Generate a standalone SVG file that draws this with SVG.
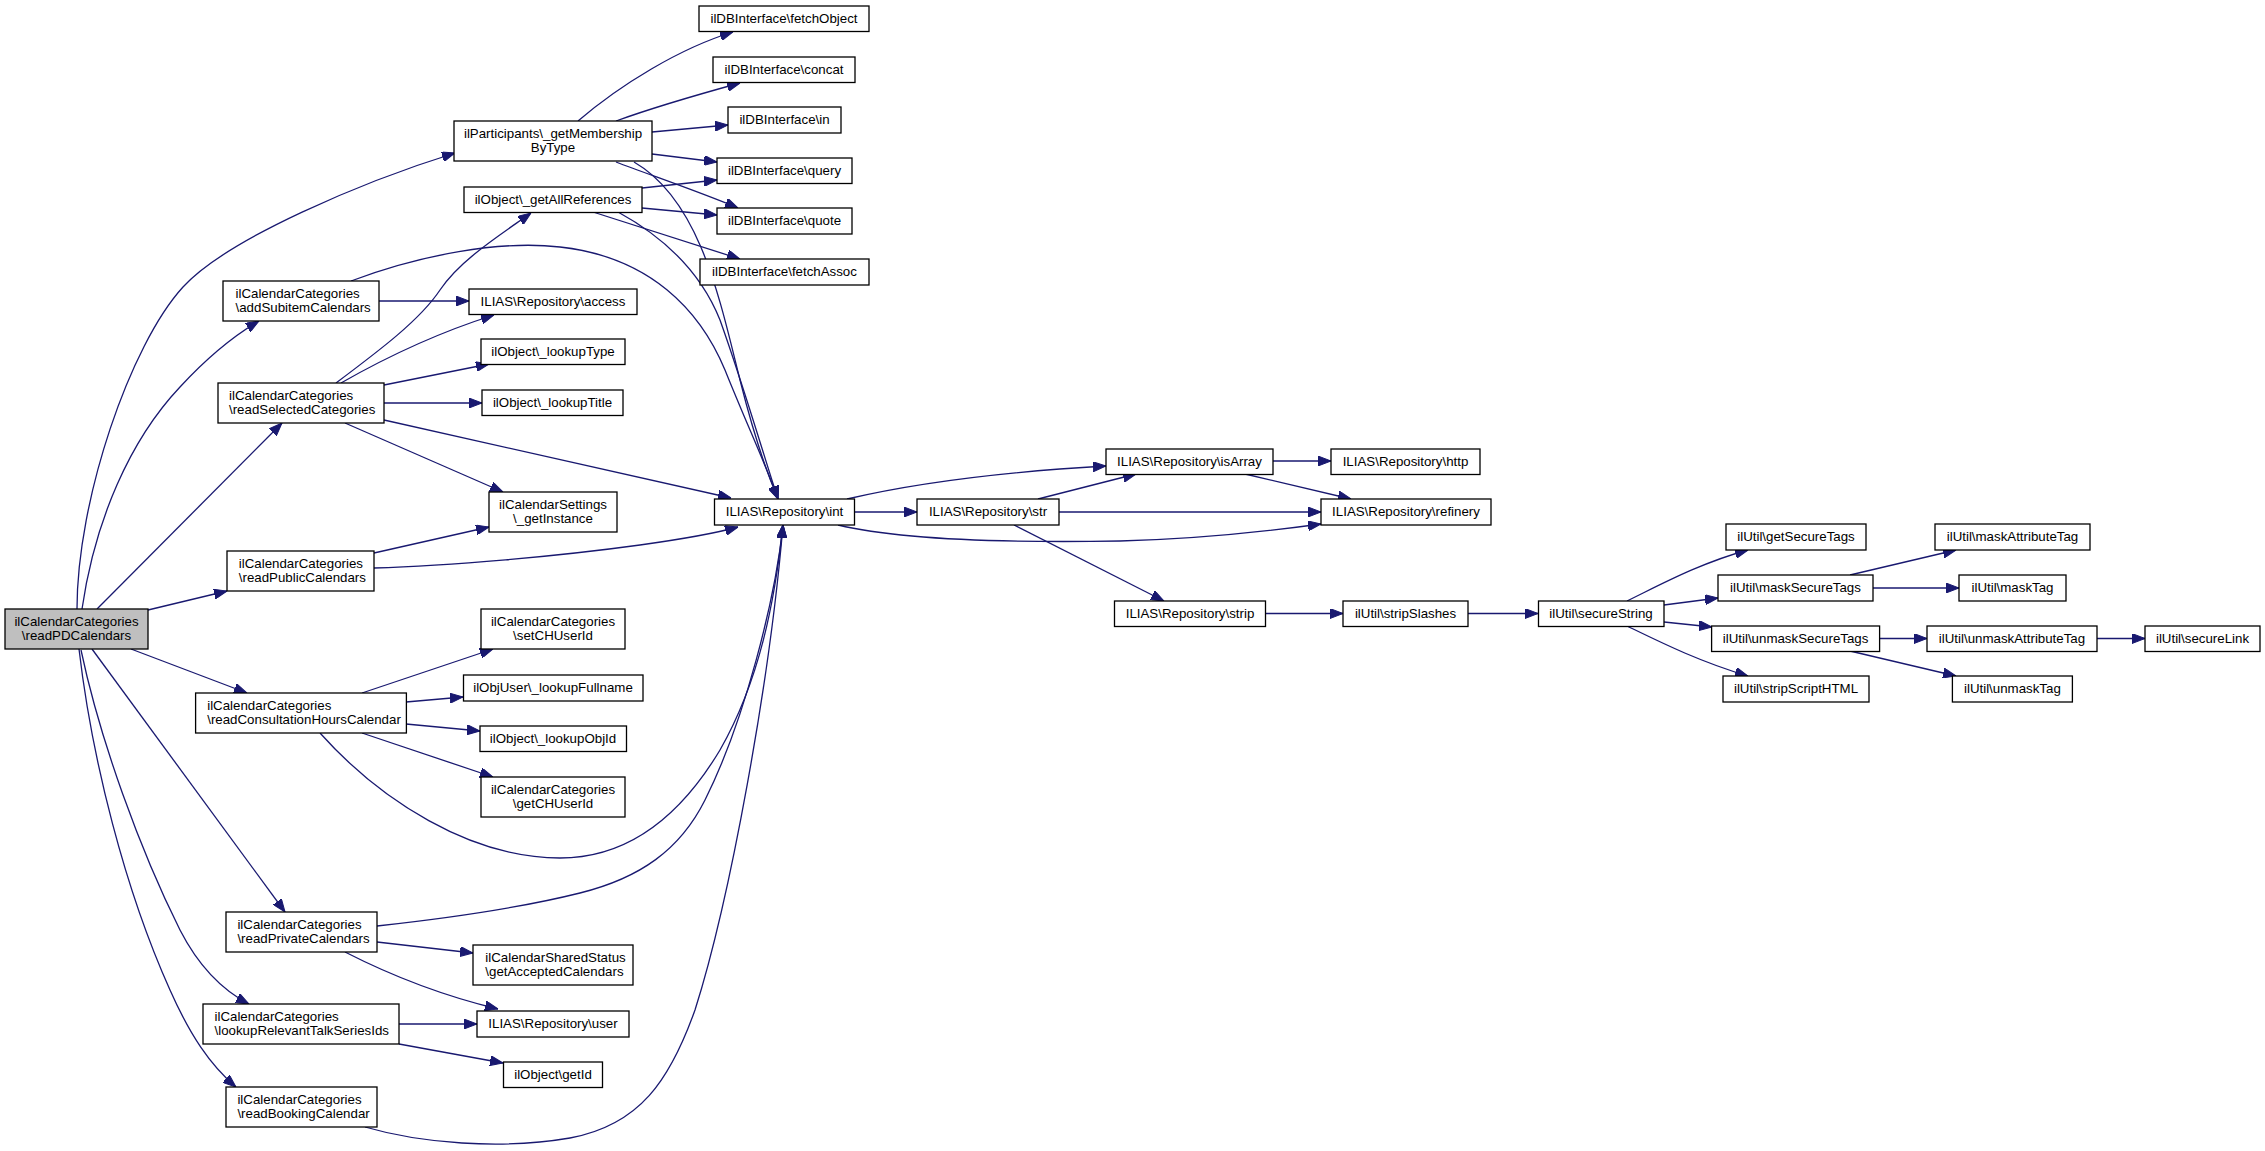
<svg xmlns="http://www.w3.org/2000/svg" width="2265" height="1151" viewBox="0 0 2265 1151">
<style>
.n rect{fill:#fff;stroke:#000;stroke-width:1.3}
.n.root rect{fill:#bfbfbf}
.n text{font-family:"Liberation Sans",Arial,sans-serif;font-size:13.3px;fill:#000}
.c{text-anchor:middle}
.e path{fill:none;stroke:#191970;stroke-width:1.3;marker-end:url(#ah)}
</style>
<defs>
<marker id="ah" markerUnits="userSpaceOnUse" markerWidth="13" markerHeight="10" viewBox="0 0 13 10" refX="13" refY="5" orient="auto">
<path d="M0,0 L13,5 L0,10 z" fill="#191970" stroke="#191970" stroke-width="1"/>
</marker>
</defs>
<rect width="2265" height="1151" fill="#fff"/>
<g id="connectors" class="e">
<path d="M77,609 C 77,500 130,345 183,287 C 228,238 365,181 455,153"/>
<path d="M82,609 C 95,520 130,440 180,387 C 205,360 230,338 259,321"/>
<path d="M97,609 L282,423"/>
<path d="M148,610 L227,591"/>
<path d="M131,649 L247,693"/>
<path d="M92,649 L285,912"/>
<path d="M81,650 C 100,740 140,850 180,930 C 198,965 222,990 249,1004"/>
<path d="M79,649 C 92,760 125,890 170,990 C 190,1035 210,1065 236,1087"/>
<path d="M578,121 C 620,85 680,48 733,32"/>
<path d="M616,121 C 660,105 700,94 740,83"/>
<path d="M652,132 L728,125"/>
<path d="M652,154 L717,162"/>
<path d="M616,162 C 650,175 700,192 738,208"/>
<path d="M634,162 C 700,200 720,300 740,380 C 755,440 770,480 778,499"/>
<path d="M642,188 L717,180"/>
<path d="M642,208 L717,215"/>
<path d="M593,212 L740,259"/>
<path d="M618,212 C 660,235 700,270 720,320 C 745,390 765,460 778,499"/>
<path d="M379,301 L469,301"/>
<path d="M351,281 C 420,255 500,240 560,247 C 650,257 700,310 725,370 C 745,420 768,470 778,499"/>
<path d="M336,383 C 380,350 420,320 440,290 C 460,260 500,235 531,213"/>
<path d="M341,383 C 390,355 440,332 494,315"/>
<path d="M384,385 L489,364"/>
<path d="M384,403 L482,403"/>
<path d="M345,423 L503,492"/>
<path d="M384,420 L731,498"/>
<path d="M374,553 L489,527"/>
<path d="M374,568 C 450,566 560,556 640,545 C 690,538 720,532 738,527"/>
<path d="M362,693 L493,649"/>
<path d="M406,702 L463,697"/>
<path d="M406,724 L480,731"/>
<path d="M362,733 L493,777"/>
<path d="M320,733 C 380,800 470,858 560,858 C 640,858 690,800 720,750 C 760,680 775,600 783,525"/>
<path d="M377,926 C 450,918 520,908 580,893 C 640,878 680,850 705,800 C 745,720 775,600 783,525"/>
<path d="M377,942 L473,953"/>
<path d="M345,952 C 390,975 440,995 498,1009"/>
<path d="M399,1024 L477,1024"/>
<path d="M399,1044 L503,1063"/>
<path d="M365,1127 C 420,1143 500,1150 570,1138 C 640,1125 670,1080 695,1010 C 730,900 770,680 783,525"/>
<path d="M847,499 C 920,482 1000,472 1106,466"/>
<path d="M854,512 L917,512"/>
<path d="M838,525 C 900,540 1000,543 1120,541 C 1200,539 1270,531 1321,524"/>
<path d="M1038,499 L1136,474"/>
<path d="M1059,512 L1321,512"/>
<path d="M1014,525 L1164,601"/>
<path d="M1273,461 L1331,461"/>
<path d="M1245,474 L1351,499"/>
<path d="M1265,613.5 L1343,613.5"/>
<path d="M1468,613.5 L1538,613.5"/>
<path d="M1627,601 C 1660,585 1700,563 1748,550"/>
<path d="M1664,605 L1718,598"/>
<path d="M1664,622 L1712,627"/>
<path d="M1627,626 C 1660,642 1700,662 1748,676"/>
<path d="M1850,575 L1956,550"/>
<path d="M1873,588 L1959,588"/>
<path d="M1880,638.5 L1927,638.5"/>
<path d="M1850,651 L1956,676"/>
<path d="M2097,638.5 L2145,638.5"/>
</g>
<g id="readPDCalendars" class="n root"><rect x="5" y="609" width="143" height="40"/><text class="c" x="76.5" y="625.5">ilCalendarCategories</text><text class="c" x="76.5" y="640">\readPDCalendars</text></g>
<g id="getMembershipByType" class="n"><rect x="454" y="121" width="198" height="40"/><text class="c" x="553" y="137.5">ilParticipants\_getMembership</text><text class="c" x="553" y="152">ByType</text></g>
<g id="getAllReferences" class="n"><rect x="464" y="187" width="178" height="25.5"/><text class="c" x="553" y="203.5">ilObject\_getAllReferences</text></g>
<g id="addSubitemCalendars" class="n"><rect x="223" y="281" width="156" height="40"/><text x="235.5" y="297.5">ilCalendarCategories</text><text x="235.5" y="312">\addSubitemCalendars</text></g>
<g id="access" class="n"><rect x="469" y="289" width="168" height="25.5"/><text class="c" x="553" y="305.5">ILIAS\Repository\access</text></g>
<g id="lookupType" class="n"><rect x="481" y="339" width="144" height="25.5"/><text class="c" x="553" y="355.5">ilObject\_lookupType</text></g>
<g id="readSelectedCategories" class="n"><rect x="218" y="383" width="166" height="40"/><text x="229" y="399.5">ilCalendarCategories</text><text x="229" y="414">\readSelectedCategories</text></g>
<g id="lookupTitle" class="n"><rect x="482" y="390" width="141" height="25.5"/><text class="c" x="552.5" y="406.5">ilObject\_lookupTitle</text></g>
<g id="getInstance" class="n"><rect x="489" y="492" width="128" height="40"/><text class="c" x="553" y="508.5">ilCalendarSettings</text><text class="c" x="553" y="523">\_getInstance</text></g>
<g id="readPublicCalendars" class="n"><rect x="227" y="551" width="147" height="40"/><text x="238.8" y="567.5">ilCalendarCategories</text><text x="238.8" y="582">\readPublicCalendars</text></g>
<g id="setCHUserId" class="n"><rect x="481" y="609" width="144" height="40"/><text class="c" x="553" y="625.5">ilCalendarCategories</text><text class="c" x="553" y="640">\setCHUserId</text></g>
<g id="lookupFullname" class="n"><rect x="463.5" y="675" width="179.5" height="26"/><text class="c" x="553" y="691.5">ilObjUser\_lookupFullname</text></g>
<g id="readConsultationHoursCalendar" class="n"><rect x="195.6" y="693" width="210.8" height="40"/><text x="207.2" y="709.5">ilCalendarCategories</text><text x="207.2" y="724">\readConsultationHoursCalendar</text></g>
<g id="lookupObjId" class="n"><rect x="480" y="726" width="146.5" height="25.5"/><text class="c" x="553" y="742.5">ilObject\_lookupObjId</text></g>
<g id="getCHUserId" class="n"><rect x="481" y="777" width="144" height="40"/><text class="c" x="553" y="793.5">ilCalendarCategories</text><text class="c" x="553" y="808">\getCHUserId</text></g>
<g id="readPrivateCalendars" class="n"><rect x="226" y="912" width="151" height="40"/><text x="237.4" y="928.5">ilCalendarCategories</text><text x="237.4" y="943">\readPrivateCalendars</text></g>
<g id="getAcceptedCalendars" class="n"><rect x="473" y="945" width="160" height="40"/><text x="485.3" y="961.5">ilCalendarSharedStatus</text><text x="485.3" y="976">\getAcceptedCalendars</text></g>
<g id="lookupRelevantTalkSeriesIds" class="n"><rect x="203" y="1004" width="196" height="40"/><text x="214.5" y="1020.5">ilCalendarCategories</text><text x="214.5" y="1035">\lookupRelevantTalkSeriesIds</text></g>
<g id="user" class="n"><rect x="477" y="1011" width="152" height="26"/><text class="c" x="553" y="1027.5">ILIAS\Repository\user</text></g>
<g id="getId" class="n"><rect x="503.5" y="1062" width="99" height="25.5"/><text class="c" x="553" y="1078.5">ilObject\getId</text></g>
<g id="readBookingCalendar" class="n"><rect x="226" y="1087" width="151" height="40"/><text x="237.4" y="1103.5">ilCalendarCategories</text><text x="237.4" y="1118">\readBookingCalendar</text></g>
<g id="fetchObject" class="n"><rect x="699" y="6" width="170" height="25.5"/><text class="c" x="784" y="22.5">ilDBInterface\fetchObject</text></g>
<g id="concat" class="n"><rect x="713" y="57" width="142" height="25.5"/><text class="c" x="784" y="73.5">ilDBInterface\concat</text></g>
<g id="in" class="n"><rect x="728" y="107" width="113" height="26"/><text class="c" x="784.5" y="123.5">ilDBInterface\in</text></g>
<g id="query" class="n"><rect x="717" y="158" width="135" height="25.5"/><text class="c" x="784.5" y="174.5">ilDBInterface\query</text></g>
<g id="quote" class="n"><rect x="717" y="208" width="135" height="26"/><text class="c" x="784.5" y="224.5">ilDBInterface\quote</text></g>
<g id="fetchAssoc" class="n"><rect x="700" y="259" width="169" height="26"/><text class="c" x="784.5" y="275.5">ilDBInterface\fetchAssoc</text></g>
<g id="int" class="n"><rect x="714.5" y="499" width="140" height="26"/><text class="c" x="784.5" y="515.5">ILIAS\Repository\int</text></g>
<g id="str" class="n"><rect x="917" y="499" width="142" height="26"/><text class="c" x="988" y="515.5">ILIAS\Repository\str</text></g>
<g id="isArray" class="n"><rect x="1106" y="449" width="167" height="25.5"/><text class="c" x="1189.5" y="465.5">ILIAS\Repository\isArray</text></g>
<g id="http" class="n"><rect x="1331" y="449" width="149" height="25.5"/><text class="c" x="1405.5" y="465.5">ILIAS\Repository\http</text></g>
<g id="refinery" class="n"><rect x="1321" y="499" width="170" height="26"/><text class="c" x="1406" y="515.5">ILIAS\Repository\refinery</text></g>
<g id="strip" class="n"><rect x="1114.5" y="601" width="151" height="25.5"/><text class="c" x="1190" y="617.5">ILIAS\Repository\strip</text></g>
<g id="stripSlashes" class="n"><rect x="1343" y="601" width="125" height="25.5"/><text class="c" x="1405.5" y="617.5">ilUtil\stripSlashes</text></g>
<g id="secureString" class="n"><rect x="1538.5" y="601" width="125.5" height="25.5"/><text class="c" x="1601" y="617.5">ilUtil\secureString</text></g>
<g id="getSecureTags" class="n"><rect x="1726" y="524" width="140" height="26"/><text class="c" x="1796" y="540.5">ilUtil\getSecureTags</text></g>
<g id="maskSecureTags" class="n"><rect x="1718" y="575" width="155" height="26"/><text class="c" x="1795.5" y="591.5">ilUtil\maskSecureTags</text></g>
<g id="unmaskSecureTags" class="n"><rect x="1711.6" y="626" width="168" height="25.5"/><text class="c" x="1795.6" y="642.5">ilUtil\unmaskSecureTags</text></g>
<g id="stripScriptHTML" class="n"><rect x="1723" y="676" width="146" height="26"/><text class="c" x="1796" y="692.5">ilUtil\stripScriptHTML</text></g>
<g id="maskAttributeTag" class="n"><rect x="1935" y="524" width="155" height="26"/><text class="c" x="2012.5" y="540.5">ilUtil\maskAttributeTag</text></g>
<g id="maskTag" class="n"><rect x="1959" y="575" width="107" height="26"/><text class="c" x="2012.5" y="591.5">ilUtil\maskTag</text></g>
<g id="unmaskAttributeTag" class="n"><rect x="1927" y="626" width="170" height="25.5"/><text class="c" x="2012" y="642.5">ilUtil\unmaskAttributeTag</text></g>
<g id="unmaskTag" class="n"><rect x="1952.4" y="676" width="120" height="26"/><text class="c" x="2012.4" y="692.5">ilUtil\unmaskTag</text></g>
<g id="secureLink" class="n"><rect x="2145" y="626" width="115" height="25.5"/><text class="c" x="2202.5" y="642.5">ilUtil\secureLink</text></g>
</svg>
